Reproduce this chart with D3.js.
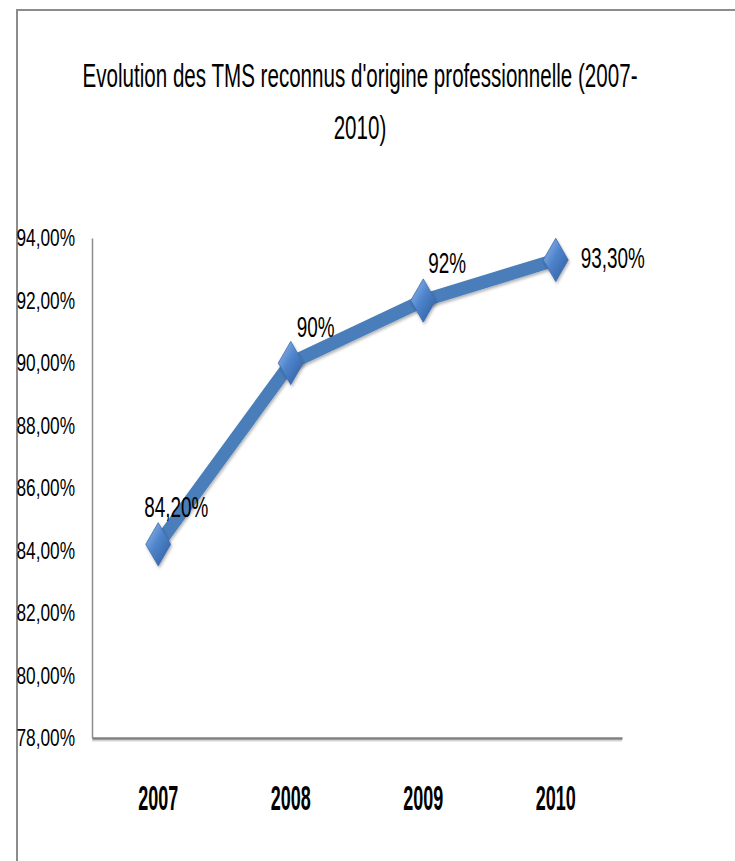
<!DOCTYPE html>
<html>
<head>
<meta charset="utf-8">
<script src="https://cdn.jsdelivr.net/npm/d3@7"></script>
<style>
  body { margin: 0; background: #fff; }
  svg { display: block; }
  text { font-family: "Liberation Sans", Arial, sans-serif; fill: #000; }
</style>
</head>
<body>
<div class="canvas"></div>
<script>
// data
const years = ['2007', '2008', '2009', '2010'];
const values = [84.2, 90, 92, 93.3];
const pointLabels = ['84,20%', '90%', '92%', '93,30%'];
const yTicks = [78, 80, 82, 84, 86, 88, 90, 92, 94];
const titleLines = ["Evolution des TMS reconnus d'origine professionnelle (2007-", '2010)'];

const width = 735;
const height = 861;

// the source picture uses a very narrow font, so squeeze text horizontally
// around its own anchor x
const squeeze = (sel, factor) => sel.each(function() {
    const ax = +d3.select(this).attr('x') || 0;
    d3.select(this)
        .attr('transform', `translate(${ax * (1 - factor)},0) scale(${factor},1)`);
});

const svg = d3.select('.canvas')
    .append('svg')
    .attr('width', width)
    .attr('height', height);

const defs = svg.append('defs');

// gradient for the diamonds
const grad = defs.append('linearGradient')
    .attr('id', 'diamondGrad')
    .attr('x1', '0%').attr('y1', '0%')
    .attr('x2', '100%').attr('y2', '100%');
grad.append('stop').attr('offset', '0%').attr('stop-color', '#9cc0ee');
grad.append('stop').attr('offset', '45%').attr('stop-color', '#4f84cc');
grad.append('stop').attr('offset', '100%').attr('stop-color', '#2b5a9a');

const shadow = defs.append('filter').attr('id', 'shadow')
    .attr('x', '-30%').attr('y', '-30%').attr('width', '160%').attr('height', '160%');
shadow.append('feDropShadow')
    .attr('dx', 1).attr('dy', 2).attr('stdDeviation', 1.5)
    .attr('flood-color', '#000').attr('flood-opacity', 0.3);

// outer frame (only top and left edges show)
svg.append('path')
    .attr('d', `M17,${height} L17,10 L${width},10`)
    .attr('fill', 'none')
    .attr('stroke', '#8c8c8c')
    .attr('stroke-width', 2);

// title
const title = svg.append('g').selectAll('text')
    .data(titleLines)
    .enter()
    .append('text')
    .attr('x', 360)
    .attr('y', (d, i) => 87 + i * 52)
    .attr('text-anchor', 'middle')
    .attr('font-size', 33)
    .text(d => d);
const titleFactor = 555 / title.node().getComputedTextLength();
squeeze(title, titleFactor);

const margin = { top: 238, left: 92 };
const graphWidth = 530;
const graphHeight = 500;

const graph = svg.append('g')
    .attr('transform', `translate(${margin.left},${margin.top})`);

const x = d3.scaleBand()
    .domain(years)
    .range([0, graphWidth]);

const y = d3.scaleLinear()
    .domain([78, 94])
    .range([graphHeight, 0]);

// axes
const yAxis = d3.axisLeft(y)
    .tickValues(yTicks)
    .tickSize(0)
    .tickPadding(17)
    .tickFormat(d => d3.format('.2f')(d).replace('.', ',') + '%');

const xAxis = d3.axisBottom(x)
    .tickSize(0)
    .tickPadding(46);

const yAxisGroup = graph.append('g').call(yAxis);
const xAxisGroup = graph.append('g')
    .attr('transform', `translate(0,${graphHeight})`)
    .call(xAxis);

yAxisGroup.select('.domain').attr('stroke', '#8c8c8c').attr('stroke-width', 1.5);
xAxisGroup.select('.domain')
    .attr('stroke', '#808080')
    .attr('stroke-width', 2.5);
// soft shadow under the x axis line
xAxisGroup.insert('line', '.domain')
    .attr('x1', 0).attr('x2', graphWidth)
    .attr('y1', 2.5).attr('y2', 2.5)
    .attr('stroke', '#d4d4d4')
    .attr('stroke-width', 2);

yAxisGroup.selectAll('text')
    .attr('font-size', 24)
    .attr('font-family', '"Liberation Sans", Arial, sans-serif')
    .attr('fill', '#222')
    .call(squeeze, 0.72);

xAxisGroup.selectAll('text')
    .attr('font-size', 36)
    .attr('font-weight', 'bold')
    .attr('font-family', '"Liberation Sans", Arial, sans-serif')
    .attr('fill', '#111')
    .call(squeeze, 0.5);

const points = years.map((yr, i) => ({ year: yr, value: values[i], label: pointLabels[i] }));
const cx = d => x(d.year) + x.bandwidth() / 2;

// line
const line = d3.line()
    .x(cx)
    .y(d => y(d.value));

graph.append('path')
    .datum(points)
    .attr('d', line)
    .attr('fill', 'none')
    .attr('stroke', '#4a7ebb')
    .attr('stroke-width', 13)
    .attr('stroke-linejoin', 'round')
    .attr('filter', 'url(#shadow)');

// diamond markers (tall, like in the source picture)
const diamond = d3.symbol().type(d3.symbolDiamond).size(540);
graph.selectAll('.marker')
    .data(points)
    .enter()
    .append('path')
    .attr('class', 'marker')
    .attr('d', diamond)
    .attr('transform', d => `translate(${cx(d)},${y(d.value)})`)
    .attr('fill', 'url(#diamondGrad)')
    .attr('stroke', '#3f6fae')
    .attr('stroke-width', 0.8)
    .attr('filter', 'url(#shadow)');

// data labels
const labelOffset = [[18, -27], [25, -26], [24, -27], [57, 8]];
graph.selectAll('.dlabel')
    .data(points)
    .enter()
    .append('text')
    .attr('class', 'dlabel')
    .attr('x', (d, i) => cx(d) + labelOffset[i][0])
    .attr('y', (d, i) => y(d.value) + labelOffset[i][1])
    .attr('text-anchor', 'middle')
    .attr('font-size', 30)
    .text(d => d.label)
    .call(squeeze, 0.63);
</script>
</body>
</html>
